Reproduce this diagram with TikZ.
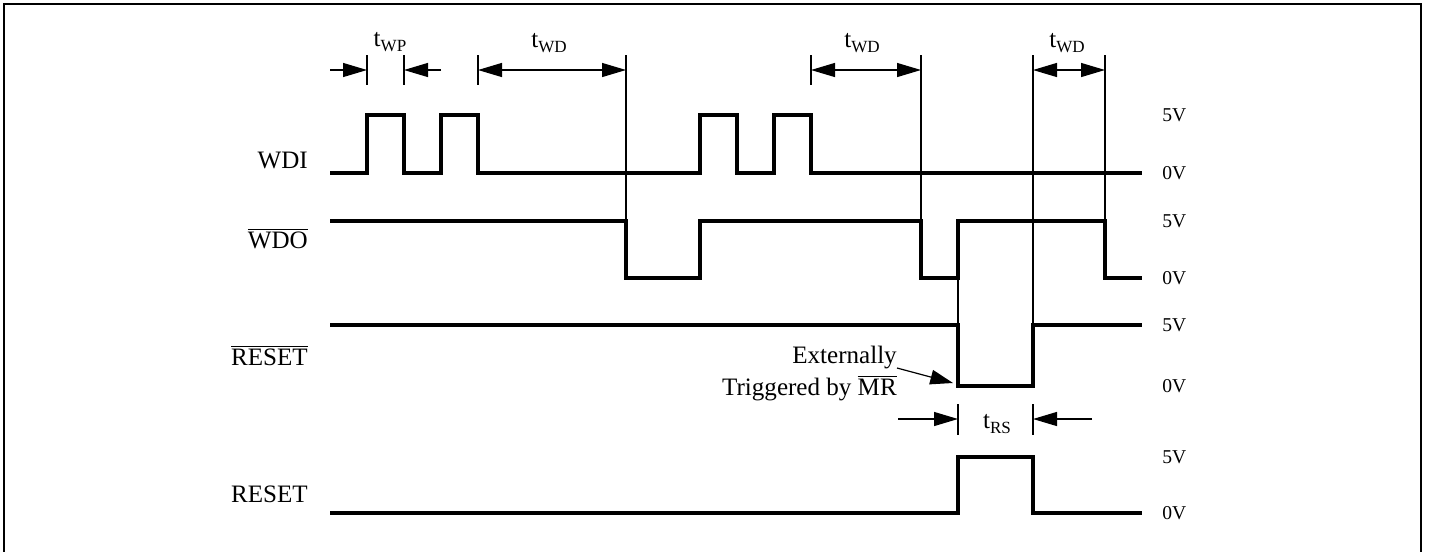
\documentclass[tikz,border=0pt]{standalone}
\usepackage{fontspec}
\setmainfont{Liberation Serif}
\usetikzlibrary{arrows.meta}
\newcommand{\ovl}[1]{$\overline{\mbox{#1}}$}
\newcommand{\tsub}[2]{#1\raisebox{-0.45ex}{\fontsize{12.8}{14}\selectfont #2}}
\begin{document}
\begin{tikzpicture}[x=0.75pt,y=-0.75pt,
  sig/.style={line width=2.4pt, line join=miter},
  thinln/.style={line width=0.9pt},
  onetip/.style={-{Triangle[length=18pt,width=10.5pt]}, line width=0.9pt},
  twotip/.style={{Triangle[length=18pt,width=10.5pt]}-{Triangle[length=18pt,width=10.5pt]}, line width=0.9pt},
  lbl/.style={font=\fontsize{18.8}{22}\selectfont, inner sep=0pt},
  lvl/.style={font=\fontsize{14.7}{17}\selectfont, inner sep=0pt, anchor=west},
]
\useasboundingbox (0,0) rectangle (1429,551);
% frame
\draw[line width=1.5pt] (4,570) -- (4,4) -- (1421,4) -- (1421,570);

% signals
\draw[sig] (330,173) -- (367,173) -- (367,115) -- (404,115) -- (404,173) -- (441,173) -- (441,115) -- (478,115) -- (478,173)
  -- (700,173) -- (700,115) -- (737,115) -- (737,173) -- (774,173) -- (774,115) -- (811,115) -- (811,173) -- (1142,173);
\draw[sig] (330,221) -- (626,221) -- (626,278) -- (700,278) -- (700,221) -- (921,221) -- (921,278) -- (958,278) -- (958,221)
  -- (1105,221) -- (1105,278) -- (1142,278);
\draw[sig] (330,325) -- (958,325) -- (958,386) -- (1033,386) -- (1033,325) -- (1142,325);
\draw[sig] (330,513) -- (958,513) -- (958,457) -- (1033,457) -- (1033,513) -- (1142,513);

% thin reference lines
\draw[thinln] (367,55) -- (367,85);
\draw[thinln] (404,55) -- (404,85);
\draw[thinln] (478,55) -- (478,85);
\draw[thinln] (626,55) -- (626,221);
\draw[thinln] (811,55) -- (811,85);
\draw[thinln] (921,55) -- (921,221);
\draw[thinln] (1033,55) -- (1033,325);
\draw[thinln] (1105,55) -- (1105,221);
\draw[thinln] (958,278) -- (958,325);
\draw[thinln] (958,404) -- (958,435);
\draw[thinln] (1033,404) -- (1033,435);

% dimension arrows
\draw[onetip] (330,70) -- (367,70);
\draw[onetip] (441,70) -- (404,70);
\draw[twotip] (478,70) -- (626,70);
\draw[twotip] (811,70) -- (921,70);
\draw[twotip] (1033,70) -- (1105,70);
\draw[onetip] (898,419) -- (958,419);
\draw[onetip] (1092,419) -- (1033,419);

% timing labels
\node[lbl] (twp) at (390,42) {\tsub{t}{WP}};
\node[lbl] (twd1) at (549,43) {\tsub{t}{WD}};
\node[lbl] (twd2) at (862,43) {\tsub{t}{WD}};
\node[lbl] (twd3) at (1067,43) {\tsub{t}{WD}};
\node[lbl] (trs) at (997,424) {\tsub{t}{RS}};

% signal names
\node[lbl, anchor=base east] (nwdi) at (308,168) {WDI};
\node[lbl, anchor=base east] (nwdo) at (308,248) {\ovl{WDO}};
\node[lbl, anchor=base east] (nrstb) at (308,365) {\ovl{RESET}};
\node[lbl, anchor=base east] (nrst) at (308,502) {RESET};

% levels
\node[lvl] (l1) at (1162,115) {5V};
\node[lvl] (l2) at (1162,173) {0V};
\node[lvl] (l3) at (1162,221) {5V};
\node[lvl] (l4) at (1162,278) {0V};
\node[lvl] (l5) at (1162,325) {5V};
\node[lvl] (l6) at (1162,386) {0V};
\node[lvl] (l7) at (1162,457) {5V};
\node[lvl] (l8) at (1162,513) {0V};

% external trigger note
\node[lbl, anchor=base east] (ext1) at (897,363) {Externally};
\node[lbl, anchor=base east] (ext2) at (897,395) {Triggered by \ovl{MR}};
\coordinate (extstart) at (897,368);
\coordinate (extend) at (953,383);
\draw[-{Triangle[length=17pt,width=11pt]}, line width=0.9pt] (extstart) -- (extend);
\end{tikzpicture}
\end{document}
